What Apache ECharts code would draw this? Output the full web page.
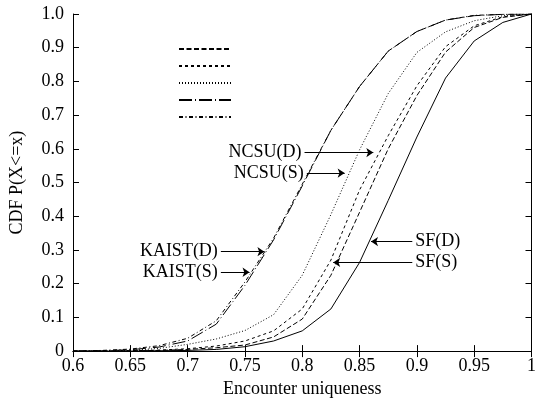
<!DOCTYPE html>
<html>
<head>
<meta charset="utf-8">
<script src="https://cdn.jsdelivr.net/npm/echarts@6/dist/echarts.min.js"></script>
<style>
html,body{margin:0;padding:0;background:#fff;}
#chart{width:539px;height:403px;}
</style>
</head>
<body>
<div id="chart"></div>
<script>
var xs = [0.6, 0.625, 0.65, 0.675, 0.7, 0.725, 0.75, 0.775, 0.8, 0.825, 0.85, 0.875, 0.9, 0.925, 0.95, 0.975, 1.0];

var sfD    = [0, 0, 0, 0.001, 0.002, 0.005, 0.013, 0.03, 0.06, 0.125, 0.263, 0.447, 0.635, 0.81, 0.92, 0.975, 1.0];
var sfS    = [0, 0, 0.001, 0.002, 0.005, 0.01, 0.018, 0.042, 0.095, 0.225, 0.412, 0.6, 0.758, 0.887, 0.96, 0.99, 1.0];
var ncsuD  = [0, 0, 0.001, 0.003, 0.007, 0.015, 0.03, 0.06, 0.125, 0.27, 0.478, 0.639, 0.787, 0.903, 0.965, 0.992, 1.0];
var ncsuS  = [0, 0, 0.002, 0.008, 0.02, 0.036, 0.061, 0.108, 0.225, 0.405, 0.597, 0.764, 0.886, 0.947, 0.98, 0.995, 1.0];
var kaistD = [0, 0.001, 0.004, 0.012, 0.03, 0.08, 0.195, 0.33, 0.49, 0.655, 0.785, 0.89, 0.948, 0.982, 0.995, 0.999, 1.0];
var kaistS = [0, 0.002, 0.006, 0.016, 0.038, 0.09, 0.205, 0.335, 0.495, 0.655, 0.785, 0.89, 0.948, 0.982, 0.996, 0.999, 1.0];

// labels with arrows: [text, labelSideX, tipX, y]
var notes = [
	['NCSU(D)', 0.802, 0.862, 0.589],
	['NCSU(S)', 0.804, 0.837, 0.528],
	['KAIST(D)', 0.729, 0.767, 0.295],
	['KAIST(S)', 0.729, 0.754, 0.234],
	['SF(D)', 0.896, 0.860, 0.325],
	['SF(S)', 0.896, 0.827, 0.263]
];

var font = 'Liberation Serif';

function pairs(vals){
	var out = [];
	for (var i = 0; i < xs.length; i++) {
		out.push([xs[i], vals[i]]);
	}
	return out;
}

function line(name, vals, dash){
	return {
		name: name,
		type: 'line',
		data: pairs(vals),
		showSymbol: false,
		symbol: 'none',
		animation: false,
		lineStyle: {color: '#000', width: 1, type: dash},
		itemStyle: {color: '#000'},
		z: 3
	};
}

var noteLines = [];
for (var i = 0; i < notes.length; i++) {
	noteLines.push([
		{coord: [notes[i][1], notes[i][3]], label: {formatter: notes[i][0]}},
		{coord: [notes[i][2], notes[i][3]]}
	]);
}

var chart = echarts.init(document.getElementById('chart'));
var opt = {
	animation: false,
	backgroundColor: '#fff',
	grid: {left: 72, right: 1, top: 14, bottom: 45},
	legend: {
		orient: 'vertical',
		left: 173,
		top: 39,
		padding: 5,
		itemWidth: 52,
		itemHeight: 10,
		itemGap: 8,
		data: ['SF(S)', 'NCSU(D)', 'NCSU(S)', 'KAIST(D)', 'KAIST(S)'],
		formatter: function(){ return ''; },
		textStyle: {fontSize: 8},
		itemStyle: {opacity: 0},
		selectedMode: false
	},
	xAxis: [{
		type: 'value', min: 0.6, max: 1, interval: 0.05,
		name: 'Encounter uniqueness', nameLocation: 'middle', nameGap: 22,
		nameTextStyle: {fontFamily: font, fontSize: 18, color: '#000'},
		axisLine: {lineStyle: {color: '#000', width: 1}},
		axisTick: {inside: true, length: 6, lineStyle: {color: '#000'}},
		axisLabel: {fontFamily: font, fontSize: 18, color: '#000', margin: 6},
		splitLine: {show: false}
	}, {
		type: 'value', min: 0.6, max: 1, interval: 0.05, position: 'top',
		axisLine: {lineStyle: {color: '#000', width: 1}},
		axisTick: {inside: true, length: 6, lineStyle: {color: '#000'}},
		axisLabel: {show: false},
		splitLine: {show: false}
	}],
	yAxis: [{
		type: 'value', min: 0, max: 1, interval: 0.1,
		name: 'CDF P(X<=x)', nameLocation: 'middle', nameGap: 47,
		nameTextStyle: {fontFamily: font, fontSize: 18, color: '#000'},
		axisLine: {show: true, lineStyle: {color: '#000', width: 1}},
		axisTick: {show: true, inside: true, length: 6, lineStyle: {color: '#000'}},
		axisLabel: {fontFamily: font, fontSize: 18, color: '#000', margin: 9,
			formatter: function(v){ return v === 0 ? '0' : v.toFixed(1); }},
		splitLine: {show: false}
	}, {
		type: 'value', min: 0, max: 1, interval: 0.1, position: 'right',
		axisLine: {show: true, lineStyle: {color: '#000', width: 1}},
		axisTick: {show: true, inside: true, length: 6, lineStyle: {color: '#000'}},
		axisLabel: {show: false},
		splitLine: {show: false}
	}],
	series: [
		line('SF(D)', sfD, 'solid'),
		line('SF(S)', sfS, [5, 2.5]),
		line('NCSU(D)', ncsuD, [3, 3]),
		line('NCSU(S)', ncsuS, [1, 2]),
		line('KAIST(D)', kaistD, [13, 3, 1, 3]),
		line('KAIST(S)', kaistS, [4, 2.5, 1, 2.5]),
		{
			name: 'notes',
			type: 'line',
			data: [],
			animation: false,
			markLine: {
				silent: true,
				animation: false,
				symbol: ['none', 'arrow'],
				symbolSize: 7,
				lineStyle: {color: '#000', width: 1, type: 'solid'},
				label: {show: true, position: 'start', distance: 3,
					fontFamily: font, fontSize: 18, color: '#000'},
				emphasis: {disabled: true},
				data: noteLines
			}
		}
	]
};
chart.setOption(opt);
</script>
</body>
</html>
